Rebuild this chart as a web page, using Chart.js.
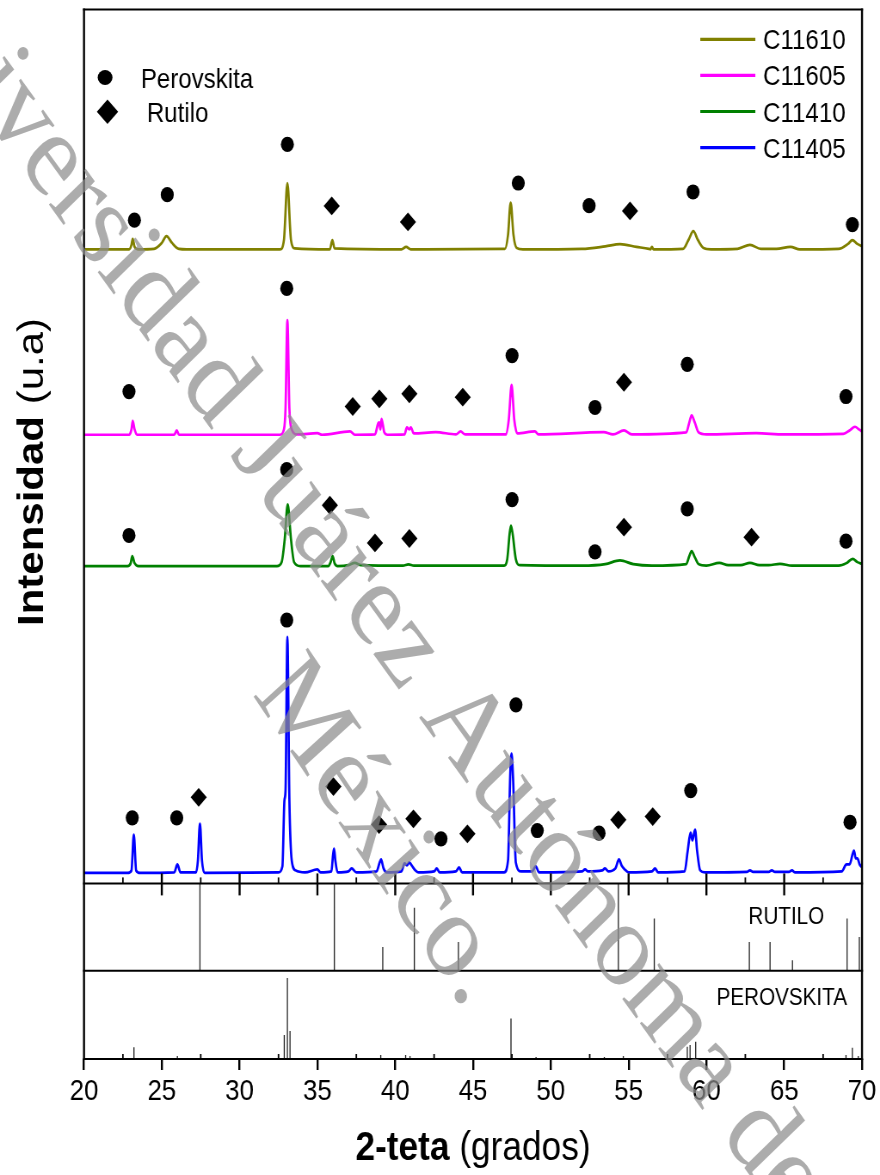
<!DOCTYPE html>
<html>
<head>
<meta charset="utf-8">
<script src="https://cdn.jsdelivr.net/npm/chart.js@4.4.1/dist/chart.umd.min.js"></script>
<style>
  html, body { margin: 0; padding: 0; background: #fff; overflow: hidden; }
  /* the reference figure is squeezed horizontally, so draw wide and squeeze */
  #wrap { width: 1023px; height: 1175px; transform: scaleX(0.86022); transform-origin: 0 0; }
  canvas { display: block; }
</style>
</head>
<body>
<div id="wrap"><canvas id="xrdChart" width="1023" height="1175"></canvas></div>
<script>
const SX = 880 / 1023;
const FONT = "'Liberation Sans', Arial, sans-serif";

// x axis
const xTickValues = [20, 25, 30, 35, 40, 45, 50, 55, 60, 65, 70];
const xMinorTicks = [22.5, 27.5, 32.5, 37.5, 42.5, 47.5, 52.5, 57.5, 62.5, 67.5];

// diffraction patterns [2theta, intensity (u.a., stacked)]
const c11610 = [
  [20.0, 635.5], [22.9, 635.5], [23.05, 640], [23.13, 646], [23.25, 638], [23.5, 635.5],
  [24.5, 636], [25.0, 642], [25.3, 648.7], [25.65, 642], [26.1, 636], [26.6, 635.5],
  [32.6, 635.5], [32.85, 645], [33.07, 702], [33.3, 645], [33.55, 636.5],
  [35.8, 635.5], [35.96, 644.7], [36.1, 636.5], [40.4, 635.5], [40.7, 638], [41.0, 635.5],
  [47.05, 636], [47.25, 650], [47.42, 682.3], [47.6, 650], [47.8, 637], [48.2, 635.5],
  [52.0, 636], [53.5, 638.5], [54.45, 640.7], [55.5, 638], [56.3, 636], [56.4, 635.5],
  [56.5, 638], [56.6, 635.5], [58.5, 636], [58.85, 645], [59.16, 653.7], [59.45, 645],
  [59.8, 637], [60.3, 635.5], [62.0, 636], [62.8, 640], [63.5, 636], [64.5, 636],
  [65.4, 638], [66.0, 635.5], [68.5, 636], [69.1, 641], [69.38, 644.7], [69.7, 641], [70.0, 638.7]
];
const c11605 = [
  [20.0, 449.7], [22.9, 449.7], [23.05, 455], [23.13, 463.7], [23.25, 455], [23.4, 449.7],
  [25.8, 449.7], [25.96, 454], [26.1, 449.7], [32.6, 449.7], [32.85, 455], [32.95, 476],
  [33.07, 564.7], [33.2, 476], [33.35, 455], [33.7, 450], [35.0, 451.3], [35.3, 449.7],
  [37.1, 453], [37.4, 449.7], [38.7, 450], [38.9, 461], [38.97, 462], [39.05, 455],
  [39.12, 465.7], [39.3, 452], [39.5, 449.7], [40.6, 450], [40.75, 457], [40.9, 455],
  [41.0, 457], [41.2, 451], [42.6, 452.3], [43.9, 450], [44.2, 453], [44.5, 450],
  [47.1, 450], [47.3, 465], [47.48, 499.7], [47.65, 465], [47.85, 451], [48.98, 453],
  [49.2, 450], [53.4, 452.3], [54.0, 450], [54.7, 454], [55.2, 450], [58.7, 452],
  [58.9, 462], [59.05, 469], [59.25, 462], [59.5, 452], [60.0, 450], [63.2, 451.3],
  [65.0, 450], [68.8, 450.5], [69.2, 454], [69.55, 457.7], [69.8, 455], [70.0, 453]
];
const c11410 = [
  [20.0, 318], [22.8, 318], [23.0, 321], [23.1, 328], [23.25, 321], [23.5, 318],
  [32.4, 318], [32.7, 322], [32.9, 345], [33.09, 380], [33.3, 345], [33.5, 322], [33.9, 318],
  [35.7, 318], [35.85, 322], [35.98, 328], [36.1, 321], [36.3, 318], [37.0, 319],
  [37.4, 321.3], [37.8, 319], [40.5, 318.5], [40.85, 319.7], [41.2, 318.5], [47.0, 318.5],
  [47.2, 325], [47.35, 350], [47.44, 358.7], [47.55, 350], [47.75, 325], [48.0, 319],
  [52.0, 318.5], [53.5, 320], [54.45, 323.7], [55.3, 320], [56.5, 318.5], [58.7, 320],
  [58.9, 328], [59.05, 333], [59.25, 327], [59.5, 320], [60.0, 318.5], [60.83, 321.3],
  [61.4, 319], [62.2, 319], [62.8, 321.3], [63.4, 319], [64.0, 319], [64.73, 320.3],
  [65.5, 318.5], [68.5, 318.5], [69.0, 321], [69.4, 325.3], [69.7, 322], [70.0, 320.3]
];
const c11405 = [
  [20.0, 10.5], [22.8, 10.5], [23.05, 13], [23.2, 49], [23.35, 13], [23.6, 10.5],
  [25.8, 11], [26.0, 19], [26.2, 11], [27.2, 11], [27.32, 23], [27.45, 60], [27.58, 23],
  [27.75, 10.5], [32.5, 11], [32.75, 17], [32.88, 83], [32.95, 93], [33.07, 247],
  [33.2, 83], [33.35, 23], [33.6, 13], [34.2, 11], [35.0, 14], [35.2, 11], [35.9, 12],
  [36.0, 28], [36.07, 35], [36.15, 23], [36.3, 11], [37.0, 12], [37.2, 15], [37.5, 11],
  [38.8, 12], [39.0, 21], [39.09, 24], [39.25, 15], [39.45, 11], [40.4, 12], [40.6, 20],
  [40.75, 18], [40.9, 21], [41.1, 17], [41.3, 13], [41.5, 11], [42.5, 12], [42.67, 15],
  [42.85, 11], [43.9, 12], [44.1, 16], [44.3, 11], [47.0, 11], [47.25, 23], [47.4, 113],
  [47.48, 130], [47.58, 103], [47.75, 21], [48.1, 12], [48.8, 12], [49.03, 17], [49.25, 11],
  [52.0, 12], [52.2, 14], [52.4, 12], [53.3, 13], [53.48, 15], [53.7, 12], [54.15, 15],
  [54.38, 24], [54.55, 18], [54.75, 14], [55.0, 11], [56.5, 12], [56.7, 15], [56.9, 11],
  [58.6, 12], [58.8, 33], [58.98, 51], [59.1, 43], [59.27, 54], [59.4, 33], [59.6, 13],
  [59.9, 11], [62.6, 11.5], [62.8, 13], [63.0, 11.5], [64.0, 11.5], [64.2, 13], [64.4, 11.5],
  [65.3, 11.5], [65.5, 13], [65.7, 11], [68.7, 12], [69.0, 19], [69.2, 19], [69.48, 33],
  [69.6, 25], [69.7, 25], [69.85, 19], [70.0, 16]
];

// phase marks: perovskite (circles) and rutile (diamonds)
const perovMarks = [
  [23.24, 664.7], [25.35, 690.3], [33.07, 740.7], [47.91, 702], [52.46, 679.3], [59.14, 693], [69.38, 660.3],
  [22.89, 493], [33.03, 596.3], [47.51, 529], [52.84, 477], [58.77, 520.3], [68.97, 488],
  [22.89, 348.7], [33.03, 414.7], [47.51, 384.7], [52.84, 332.3], [58.77, 375.3], [68.97, 343],
  [23.1, 65.7], [25.96, 65.7], [33.03, 264], [42.94, 44.7], [47.76, 179], [49.13, 53],
  [53.1, 50.3], [58.99, 93], [69.23, 61.3]
];
const rutileMarks = [
  [35.92, 679], [40.82, 663], [55.09, 674],
  [37.27, 478], [38.98, 485.7], [40.91, 490.7], [44.34, 487.3], [54.7, 502.3],
  [35.8, 379], [38.7, 341.3], [40.91, 345.7], [54.7, 357], [62.9, 347],
  [27.37, 86.3], [36.03, 97], [38.96, 59], [41.17, 64.7], [44.64, 49.7], [54.34, 63.7], [56.55, 67]
];

// reference patterns (sticks)
const rutiloRef = [
  [27.45, 87.5], [36.09, 87.5], [39.2, 23.8], [41.23, 63.2], [44.06, 28.8], [54.34, 87.5],
  [56.65, 52.2], [62.76, 28.8], [64.09, 28.8], [65.53, 10.5], [69.04, 52.2], [69.83, 33.8]
];
const perovskitaRef = [
  [23.21, 11.7], [26.0, 3], [32.87, 24], [33.07, 81.3], [33.24, 28], [39.07, 4], [40.67, 4],
  [40.95, 3], [47.44, 40.7], [49.05, 2], [53.44, 2], [54.66, 3], [58.77, 12.3], [58.95, 14],
  [59.31, 17.3], [68.97, 4], [69.38, 11.3], [69.76, 3]
];

const sampleNames = ['C11610', 'C11605', 'C11410', 'C11405'];
const sampleColors = ['#808000', '#ff00ff', '#008000', '#0000ff'];
const sampleData = [c11610, c11605, c11410, c11405];

function sticks(list) {
  return list.flatMap(([x, h]) => [[x, 0], [x, h], [x, null]]);
}

const datasets = [];
sampleData.forEach((d, i) => {
  datasets.push({
    label: sampleNames[i], data: d, yAxisID: 'y',
    borderColor: sampleColors[i], borderWidth: 2.7, pointRadius: 0,
    cubicInterpolationMode: 'monotone', fill: false
  });
});
datasets.push({
  label: 'Perovskita', data: perovMarks, yAxisID: 'y', showLine: false,
  pointStyle: 'circle', pointRadius: 7.6, pointBackgroundColor: '#000', pointBorderColor: '#000', pointBorderWidth: 0
});
datasets.push({
  label: 'Rutilo', data: rutileMarks, yAxisID: 'y', showLine: false,
  pointStyle: 'rectRot', pointRadius: 9.4, pointBackgroundColor: '#000', pointBorderColor: '#000', pointBorderWidth: 0
});
datasets.push({
  label: 'RUTILO', data: sticks(rutiloRef), yAxisID: 'yR',
  borderColor: '#222', borderWidth: 1.3, pointRadius: 0, tension: 0
});
datasets.push({
  label: 'PEROVSKITA', data: sticks(perovskitaRef), yAxisID: 'yP',
  borderColor: '#222', borderWidth: 1.3, pointRadius: 0, tension: 0
});

function line(ctx, x1, y1, x2, y2) {
  ctx.beginPath(); ctx.moveTo(x1, y1); ctx.lineTo(x2, y2); ctx.stroke();
}

// frame, inner ticks, legends, titles and watermark
const decorations = {
  id: 'decorations',
  afterDraw(chart) {
    const { ctx, scales: { x, y, yR, yP } } = chart;
    const L = x.left, R = x.right;
    ctx.save();
    ctx.strokeStyle = '#000';

    ctx.lineWidth = 2;
    [y.top, y.bottom, yR.bottom, yP.bottom].forEach(py => line(ctx, L - 1.2, py, R + 1.2, py));
    ctx.lineWidth = 2.4;
    line(ctx, L, y.top - 1, L, yP.bottom + 1);
    line(ctx, R, y.top - 1, R, yP.bottom + 1);

    xTickValues.slice(1, -1).forEach(v => {
      const px = x.getPixelForValue(v);
      line(ctx, px, y.bottom - 10, px, y.bottom + 12);
    });
    ctx.lineWidth = 1.8;
    xMinorTicks.forEach(v => {
      const px = x.getPixelForValue(v);
      line(ctx, px, y.bottom - 6, px, y.bottom);
      line(ctx, px, yP.bottom - 5, px, yP.bottom);
    });

    // sample legend
    ctx.lineWidth = 3.2;
    ctx.font = '28px ' + FONT;
    ctx.fillStyle = '#000';
    ctx.textBaseline = 'alphabetic';
    sampleNames.forEach((name, i) => {
      const ly = 39.3 + i * 36.1;
      ctx.strokeStyle = sampleColors[i];
      line(ctx, R - 188, ly, R - 124, ly);
      ctx.fillText(name, R - 115, ly + 10);
    });

    // phase legend
    ctx.beginPath();
    ctx.ellipse(L + 24.5, 77.5, 8.6, 7.6, 0, 0, Math.PI * 2);
    ctx.fill();
    ctx.beginPath();
    ctx.moveTo(L + 27.3 - 12.4, 111.7);
    ctx.lineTo(L + 27.3, 111.7 - 12.2);
    ctx.lineTo(L + 27.3 + 12.4, 111.7);
    ctx.lineTo(L + 27.3, 111.7 + 12.2);
    ctx.closePath();
    ctx.fill();
    ctx.fillText('Perovskita', L + 66, 88.3);
    ctx.fillText('Rutilo', L + 73, 121.7);

    // reference panel labels
    ctx.font = '24px ' + FONT;
    ctx.fillText('RUTILO', R - 132, yR.top + 41);
    ctx.fillText('PEROVSKITA', R - 169, yP.top + 34.5);

    // x title
    const bold = 'bold 41px ' + FONT, reg = '41px ' + FONT;
    ctx.font = bold; const w1 = ctx.measureText('2-teta').width;
    ctx.font = reg; const w2 = ctx.measureText(' (grados)').width;
    let sx = (L + R) / 2 - (w1 + w2) / 2;
    ctx.font = bold; ctx.fillText('2-teta', sx, 1160);
    ctx.font = reg; ctx.fillText(' (grados)', sx + w1, 1160);

    // y title
    ctx.save();
    ctx.translate(50.3, 472);
    ctx.rotate(-Math.PI / 2);
    const yb = 'bold 42px ' + FONT, yr = '42px ' + FONT;
    ctx.font = yb; const v1 = ctx.measureText('Intensidad').width;
    ctx.font = yr; const v2 = ctx.measureText(' (u.a)').width;
    ctx.font = yb; ctx.fillText('Intensidad', -(v1 + v2) / 2, 0);
    ctx.font = yr; ctx.fillText(' (u.a)', -(v1 + v2) / 2 + v1, 0);
    ctx.restore();

    // watermark
    ctx.fillStyle = 'rgba(140,140,140,0.72)';
    ctx.font = "122px 'Liberation Serif', 'DejaVu Serif', serif";
    ctx.textAlign = 'center';
    ctx.textBaseline = 'middle';
    [['Universidad Juárez Autónoma de', 412, 578, 50], ['México.', 442, 833, 52]].forEach(([t, cx, cy, ang]) => {
      ctx.save();
      ctx.translate(cx, cy);
      ctx.rotate(ang * Math.PI / 180);
      ctx.fillText(t, 0, 0);
      ctx.restore();
    });
    ctx.restore();
  }
};

const hiddenY = (weight, max) => ({
  type: 'linear', position: 'left', stack: 'xrd', stackWeight: weight, min: 0, max: max,
  ticks: { display: false }, grid: { display: false }, border: { display: false },
  afterFit: s => { s.width = 0; }
});

const ctx = document.getElementById('xrdChart').getContext('2d');
const xrdChart = new Chart(ctx, {
  type: 'line',
  data: { datasets },
  plugins: [decorations],
  options: {
    responsive: false,
    animation: false,
    events: [],
    layout: { padding: { left: 84 / SX, right: (880 - 862) / SX, top: 7, bottom: 0 } },
    plugins: { legend: { display: false }, tooltip: { enabled: false } },
    scales: {
      x: {
        type: 'linear', position: 'bottom', min: 20, max: 70,
        afterBuildTicks: s => { s.ticks = xTickValues.map(v => ({ value: v })); },
        afterFit: s => { s.height = 116; },
        ticks: { font: { family: FONT, size: 30 }, color: '#000', padding: 4, autoSkip: false, maxRotation: 0 },
        grid: { drawOnChartArea: false, drawTicks: true, tickLength: 11, color: '#000', lineWidth: 2.4 },
        border: { display: false }
      },
      yP: hiddenY(88.5, 88.5),
      yR: hiddenY(87.5, 87.5),
      y: hiddenY(876, 876)
    }
  }
});
</script>
</body>
</html>
